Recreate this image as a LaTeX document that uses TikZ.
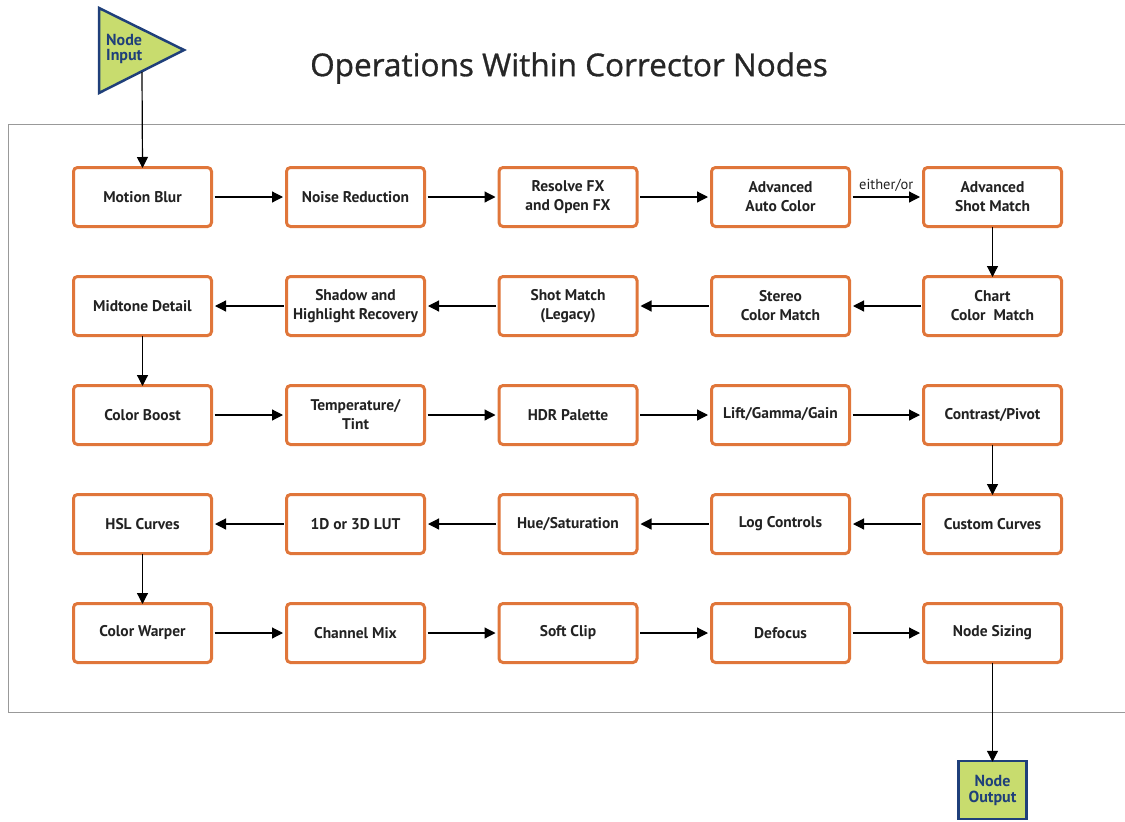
\documentclass[tikz,border=0pt]{standalone}
\usepackage{fontspec}
\setmainfont{PT Sans}
\newfontfamily\titlefont{Open Sans}[FakeBold=0.9]
\usetikzlibrary{arrows.meta}
\definecolor{boxorange}{HTML}{E0763A}
\definecolor{navy}{HTML}{1F3F7A}
\definecolor{lime}{HTML}{C8DC6E}
\definecolor{txt}{HTML}{222222}
\tikzset{
  op/.style={draw=boxorange, line width=3pt, rounded corners=4pt, fill=white,
    minimum width=138pt, minimum height=59pt, align=center,
    font=\fontsize{15.5}{19}\selectfont\bfseries, text=txt, inner sep=2pt},
  flow/.style={-{Triangle[length=11pt,width=11pt]}, line width=1.2pt, black},
  io/.style={draw=navy, line width=2.5pt, fill=lime, text=navy,
    font=\fontsize{16}{16}\selectfont\bfseries, align=left}
}
\begin{document}
\begin{tikzpicture}[x=1pt,y=-1pt]
\useasboundingbox (0,0) rectangle (1125,822);
% frame
\draw[gray!80, line width=1pt] (1130,124) -- (8,124) -- (8,712) -- (1130,712);
% title
\node[font=\titlefont\fontsize{31.5}{34}\selectfont, text=black!85] (title) at (569,68) {Operations Within Corrector Nodes};
% input triangle
\draw[draw=navy, line width=2.5pt, fill=lime, line join=miter] (99,8) -- (184,50) -- (99,93) -- cycle;
\node[text=navy, font=\fontsize{16}{15}\selectfont\bfseries, align=left, anchor=west, inner sep=0pt] (inlab) at (106,49) {Node\\Input};
\coordinate (intip) at (142,72);
% boxes
\node[op] (mb)  at (142.5,197) {Motion Blur};
\node[op] (nr)  at (355.5,197) {Noise Reduction};
\node[op] (rfx) at (568,197) {Resolve FX\\and Open FX};
\node[op] (aac) at (780.5,197) {Advanced\\Auto Color};
\node[op] (asm) at (992.5,197) {Advanced\\Shot Match};

\node[op] (md)  at (142.5,306) {Midtone Detail};
\node[op] (shr) at (355.5,306) {Shadow and\\Highlight Recovery};
\node[op] (sml) at (568,306) {Shot Match\\(Legacy)};
\node[op] (scm) at (780.5,306) {Stereo\\Color Match};
\node[op] (ccm) at (992.5,306) {Chart\\Color~~Match};

\node[op] (cb)  at (142.5,415) {Color Boost};
\node[op] (tt)  at (355.5,415) {Temperature/\\Tint};
\node[op] (hdr) at (568,415) {HDR Palette};
\node[op] (lgg) at (780.5,415) {\raisebox{4pt}{Lift/Gamma/Gain}};
\node[op] (cp)  at (992.5,415) {Contrast/Pivot};

\node[op] (hsl) at (142.5,524) {HSL Curves};
\node[op] (lut) at (355.5,524) {1D or 3D LUT};
\node[op] (hs)  at (568,524) {Hue/Saturation};
\node[op] (lc)  at (780.5,524) {Log Controls};
\node[op] (cc)  at (992.5,524) {Custom Curves};

\node[op] (cw)  at (142.5,633) {Color Warper};
\node[op] (cm)  at (355.5,633) {Channel Mix};
\node[op] (sc)  at (568,633) {Soft Clip};
\node[op] (df)  at (780.5,633) {Defocus};
\node[op] (ns)  at (992.5,633) {Node Sizing};

% output
\node[io, minimum width=68pt, minimum height=58pt, align=center, font=\fontsize{16}{16}\selectfont\bfseries] (out) at (992.5,790) {Node\\Output};

% connectors
\draw[flow] (intip) -- ([yshift=-2pt]mb.north);
\draw[flow] ([xshift=1.5pt]mb.east) -- ([xshift=-2pt]nr.west);
\draw[flow] ([xshift=1.5pt]nr.east) -- ([xshift=-2pt]rfx.west);
\draw[flow] ([xshift=1.5pt]rfx.east) -- ([xshift=-2pt]aac.west);
\draw[flow] ([xshift=1.5pt]aac.east) -- node[above, font=\fontsize{14.5}{15}\selectfont, text=txt, yshift=2pt] {either/or} ([xshift=-2pt]asm.west);
\draw[flow] ([yshift=1.5pt]asm.south) -- ([yshift=-2pt]ccm.north);
\draw[flow] ([xshift=-1.5pt]ccm.west) -- ([xshift=2pt]scm.east);
\draw[flow] ([xshift=-1.5pt]scm.west) -- ([xshift=2pt]sml.east);
\draw[flow] ([xshift=-1.5pt]sml.west) -- ([xshift=2pt]shr.east);
\draw[flow] ([xshift=-1.5pt]shr.west) -- ([xshift=2pt]md.east);
\draw[flow] ([yshift=1.5pt]md.south) -- ([yshift=-2pt]cb.north);
\draw[flow] ([xshift=1.5pt]cb.east) -- ([xshift=-2pt]tt.west);
\draw[flow] ([xshift=1.5pt]tt.east) -- ([xshift=-2pt]hdr.west);
\draw[flow] ([xshift=1.5pt]hdr.east) -- ([xshift=-2pt]lgg.west);
\draw[flow] ([xshift=1.5pt]lgg.east) -- ([xshift=-2pt]cp.west);
\draw[flow] ([yshift=1.5pt]cp.south) -- ([yshift=-2pt]cc.north);
\draw[flow] ([xshift=-1.5pt]cc.west) -- ([xshift=2pt]lc.east);
\draw[flow] ([xshift=-1.5pt]lc.west) -- ([xshift=2pt]hs.east);
\draw[flow] ([xshift=-1.5pt]hs.west) -- ([xshift=2pt]lut.east);
\draw[flow] ([xshift=-1.5pt]lut.west) -- ([xshift=2pt]hsl.east);
\draw[flow] ([yshift=1.5pt]hsl.south) -- ([yshift=-2pt]cw.north);
\draw[flow] ([xshift=1.5pt]cw.east) -- ([xshift=-2pt]cm.west);
\draw[flow] ([xshift=1.5pt]cm.east) -- ([xshift=-2pt]sc.west);
\draw[flow] ([xshift=1.5pt]sc.east) -- ([xshift=-2pt]df.west);
\draw[flow] ([xshift=1.5pt]df.east) -- ([xshift=-2pt]ns.west);
\draw[flow] ([yshift=1.5pt]ns.south) -- ([yshift=-2pt]out.north);
\end{tikzpicture}
\end{document}
